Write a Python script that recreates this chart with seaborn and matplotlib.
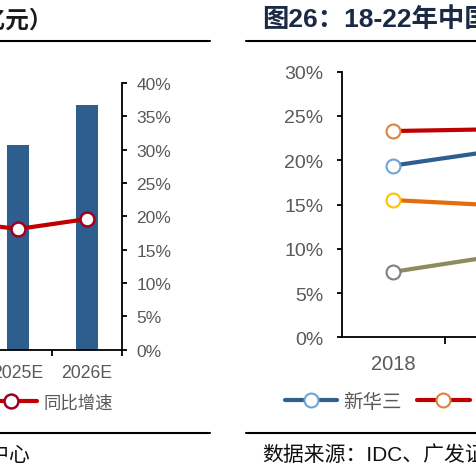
import matplotlib
matplotlib.use("Agg")
import matplotlib.pyplot as plt
from matplotlib.lines import Line2D
from matplotlib.ticker import MultipleLocator, PercentFormatter
import pandas as pd
import seaborn as sns

# left panel: market size (亿元, bars) and YoY growth (line)
years_left = ["2024E", "2025E", "2026E"]
size_yi = [260, 307, 367]
growth = [0.194, 0.181, 0.196]

# right panel: vendor share 2018-2022 (only the first years are in view)
years_right = ["2018", "2019"]
vendors = ["新华三", "浪潮", "华为", "联想"]
share_h3c = [0.194, 0.211]
share_inspur = [0.233, 0.235]
share_huawei = [0.155, 0.149]
share_lenovo = [0.074, 0.092]

sns.set_theme(style="white")
plt.rcParams["font.family"] = ["Liberation Sans", "Noto Sans CJK SC"]
plt.rcParams["axes.unicode_minus"] = False

W, H = 476, 477
GRAY = "#595959"
BAR = "#2D5E8E"


def fx(px):
    return px / W


def fy(py):
    return 1 - py / H


fig = plt.figure(figsize=(W / 100, H / 100), dpi=100)

# ---------------- left chart ----------------
slot = 69.2
ax = fig.add_axes([fx(121.7 - 3 * slot), fy(350.7), fx(3 * slot), (350.7 - 84) / H])
left_df = pd.DataFrame({"year": years_left, "size": size_yi, "growth": growth})
sns.barplot(data=left_df, x="year", y="size", order=years_left, color=BAR,
            saturation=1, width=0.32, linewidth=0, ax=ax)
ax2 = ax.twinx()
sns.pointplot(data=left_df, x="year", y="growth", order=years_left, color="#C00000",
              markers="o", linestyles="-", errorbar=None, ax=ax2)
gl = ax2.lines[0]
gl.set_linewidth(3)
gl.set_markersize(10)
gl.set_markerfacecolor("white")
gl.set_markeredgecolor("#A00020")
gl.set_markeredgewidth(1.8)

ax.set_xlim(-0.5, 2.5)
ax.set_ylim(0, 400)
ax2.set_ylim(0, 0.40)
ax.set_yticks([])
ax.set_xlabel("")
ax.set_ylabel("")
ax2.set_ylabel("")
ax2.yaxis.set_major_locator(MultipleLocator(0.05))
ax2.yaxis.set_major_formatter(PercentFormatter(1, decimals=0))
ax2.tick_params(axis="y", right=True, direction="out", length=3.5, width=1.3,
                color="black", labelcolor=GRAY, labelsize=12.5, pad=7)
for s in ["left", "top", "right"]:
    ax.spines[s].set_visible(False)
for s in ["left", "top", "bottom"]:
    ax2.spines[s].set_visible(False)
ax2.spines["right"].set_color("black")
ax2.spines["right"].set_linewidth(1.3)
ax.spines["bottom"].set_color("black")
ax.spines["bottom"].set_linewidth(1.3)
ax.set_xticks(range(len(years_left)))
ax.set_xticklabels(years_left)
ax.set_xticks([i + 0.5 for i in range(len(years_left))], minor=True)
ax.tick_params(axis="x", which="major", bottom=True, length=0, pad=10,
               labelsize=12.7, labelcolor=GRAY)
ax.tick_params(axis="x", which="minor", bottom=True, direction="out", length=4,
               width=1.3, color="black")

fig.legend(handles=[gl], labels=["同比增速"], loc="center left",
           bbox_to_anchor=(fx(-15), fy(403)), frameon=False, fontsize=12.5,
           handlelength=3.0, handletextpad=0.35, borderpad=0, borderaxespad=0,
           labelcolor=GRAY)

# ---------------- right chart ----------------
rslot = 103.5
axr = fig.add_axes([fx(341.7), fy(338.3), fx(5 * rslot), (338.3 - 72.7) / H])
right_df = pd.DataFrame({"year": years_right * 4,
                         "vendor": [v for v in vendors for _ in years_right],
                         "share": share_h3c + share_inspur + share_huawei + share_lenovo})
styles = {
    "新华三": ("#2E5F8F", "#6FA3D6"),
    "浪潮": ("#C00000", "#E0803A"),
    "华为": ("#E46C0A", "#FFC000"),
    "联想": ("#8C8C5E", "#7F7F7F"),
}
handles = []
for v in vendors:
    lc, mc = styles[v]
    sns.pointplot(data=right_df[right_df["vendor"] == v], x="year", y="share",
                  order=years_right, color=lc, markers="o", linestyles="-",
                  errorbar=None, ax=axr)
    ln = axr.lines[-1]
    ln.set_linewidth(3)
    ln.set_markersize(10)
    ln.set_markerfacecolor("white")
    ln.set_markeredgecolor(mc)
    ln.set_markeredgewidth(1.5)
    handles.append(ln)

axr.set_xlim(-0.5, 4.5)
axr.set_ylim(0, 0.30)
axr.set_xlabel("")
axr.set_ylabel("")
axr.yaxis.set_major_locator(MultipleLocator(0.05))
axr.yaxis.set_major_formatter(PercentFormatter(1, decimals=0))
axr.tick_params(axis="y", left=True, direction="out", length=3.6, width=1.3,
                color="black", labelcolor=GRAY, labelsize=14, pad=9.5)
for s in ["top", "right"]:
    axr.spines[s].set_visible(False)
for s in ["left", "bottom"]:
    axr.spines[s].set_color("black")
    axr.spines[s].set_linewidth(1.3)
axr.set_xticks(range(len(years_right)))
axr.set_xticklabels(years_right)
axr.set_xticks([i + 0.5 for i in range(len(years_right))], minor=True)
axr.tick_params(axis="x", which="major", bottom=True, length=0, pad=12,
                labelsize=14.5, labelcolor=GRAY)
axr.tick_params(axis="x", which="minor", bottom=True, direction="out", length=5,
                width=1.3, color="black")

fig.legend(handles=handles, labels=vendors, loc="center left",
           bbox_to_anchor=(fx(285), fy(402.7)), ncol=4, frameon=False, fontsize=14,
           handlelength=2.68, handletextpad=0.3, columnspacing=0.82, borderpad=0,
           borderaxespad=0, labelcolor=GRAY)

# ---------------- titles, rules, sources ----------------
fig.text(fx(53), fy(21), "（亿元）", ha="right", va="center", fontsize=17,
         weight="bold", color="#1A1A1A")
fig.text(fx(262), fy(20), "图26：18-22年中国服务器市场份额", ha="left", va="center",
         fontsize=19, weight="bold", color="#1A2A44")
for x0, x1 in [(0, 210), (246, 476)]:
    for y in (41.5, 434.3):
        fig.add_artist(Line2D([fx(x0), fx(x1)], [fy(y), fy(y)],
                              transform=fig.transFigure, color="black", lw=1.5))
src = "数据来源：IDC、广发证券发展研究中心"
fig.text(fx(30), fy(456), src, ha="right", va="center", fontsize=15, color="#111111")
fig.text(fx(262), fy(456), src, ha="left", va="center", fontsize=15, color="#111111")

fig.savefig("out.png", dpi=100)
